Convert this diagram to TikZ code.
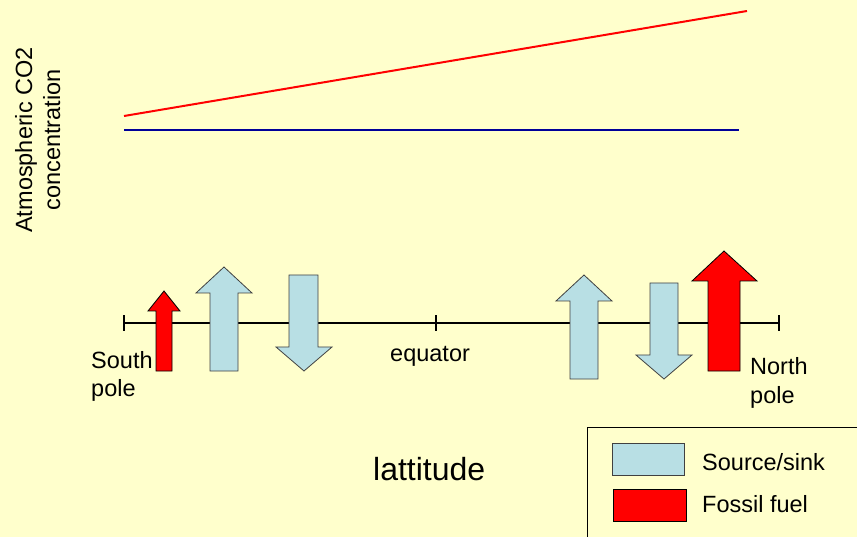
\documentclass[tikz,border=0pt]{standalone}
\usepackage{fontspec}
\setmainfont{Liberation Sans}
\definecolor{bgyellow}{HTML}{FFFFCC}
\definecolor{lightblue}{HTML}{B8DFE4}
\definecolor{navyline}{HTML}{000099}
\definecolor{outline}{HTML}{404040}
\tikzset{
  txt/.style={inner sep=0pt, font=\fontsize{23.5}{28}\selectfont, anchor=base west},
  sinkarrow/.style={fill=lightblue, draw=outline, line width=0.8pt, line join=miter},
  fossilarrow/.style={fill=red, draw=black, line width=0.8pt, line join=miter},
  axisline/.style={line width=2pt, black},
}
\begin{document}
\begin{tikzpicture}[x=1pt,y=-1pt]
\fill[bgyellow] (0,0) rectangle (857,537);
\useasboundingbox (0,0) rectangle (857,537);
% concentration lines
\coordinate (r1) at (124,116); \coordinate (r2) at (747,11);
\coordinate (b1) at (124,130); \coordinate (b2) at (739,130);
\draw[red, line width=2pt] (r1) -- (r2);
\draw[navyline, line width=2.6pt] (b1) -- (b2);
% y label
\node[inner sep=0pt, font=\fontsize{23.5}{28}\selectfont, rotate=90, anchor=base] (yl1) at (32,140) {Atmospheric CO2};
\node[inner sep=0pt, font=\fontsize{23.5}{28}\selectfont, rotate=90, anchor=base] (yl2) at (60,140) {concentration};
% axis
\coordinate (ax1) at (124,323); \coordinate (ax2) at (436,323); \coordinate (ax3) at (779,323);
\draw[axisline] (ax1) -- (ax3);
\foreach \c in {ax1,ax2,ax3} \draw[axisline] ([yshift=-8pt]\c) -- ([yshift=8pt]\c);
% arrows
\draw[fossilarrow] (156,371) -- (156,311) -- (148,311) -- (164,291) -- (180,311) -- (172,311) -- (172,371) -- cycle;
\draw[sinkarrow] (210,371) -- (210,293) -- (196,293) -- (224,267) -- (252,293) -- (238,293) -- (238,371) -- cycle;
\draw[sinkarrow] (289,275) -- (289,347) -- (276,347) -- (304,371) -- (332,347) -- (318,347) -- (318,275) -- cycle;
\draw[sinkarrow] (570,379) -- (570,301) -- (556,301) -- (584,275) -- (612,301) -- (598,301) -- (598,379) -- cycle;
\draw[sinkarrow] (650,283) -- (650,355) -- (636,355) -- (664,379) -- (692,355) -- (678,355) -- (678,283) -- cycle;
\draw[fossilarrow] (708,371) -- (708,281) -- (692,281) -- (724,251) -- (757,281) -- (740,281) -- (740,371) -- cycle;
% labels
\node[txt] (s1) at (91,368) {South};
\node[txt] (s2) at (91,396) {pole};
\node[txt] (eq) at (390,362) {equator};
\node[txt] (n1) at (750,374) {North};
\node[txt] (n2) at (750,403) {pole};
\node[inner sep=0pt, font=\fontsize{32}{36}\selectfont, anchor=base west] (lat) at (373,480) {lattitude};
% legend
\draw[black, line width=0.8pt] (587,560) -- (587,427) -- (880,427);
\draw[sinkarrow] (612,443) rectangle (684,475);
\draw[fossilarrow] (613,489) rectangle (686,521);
\node[txt] (lg1) at (702,470) {Source/sink};
\node[txt] (lg2) at (702,512) {Fossil fuel};
\end{tikzpicture}
\end{document}
